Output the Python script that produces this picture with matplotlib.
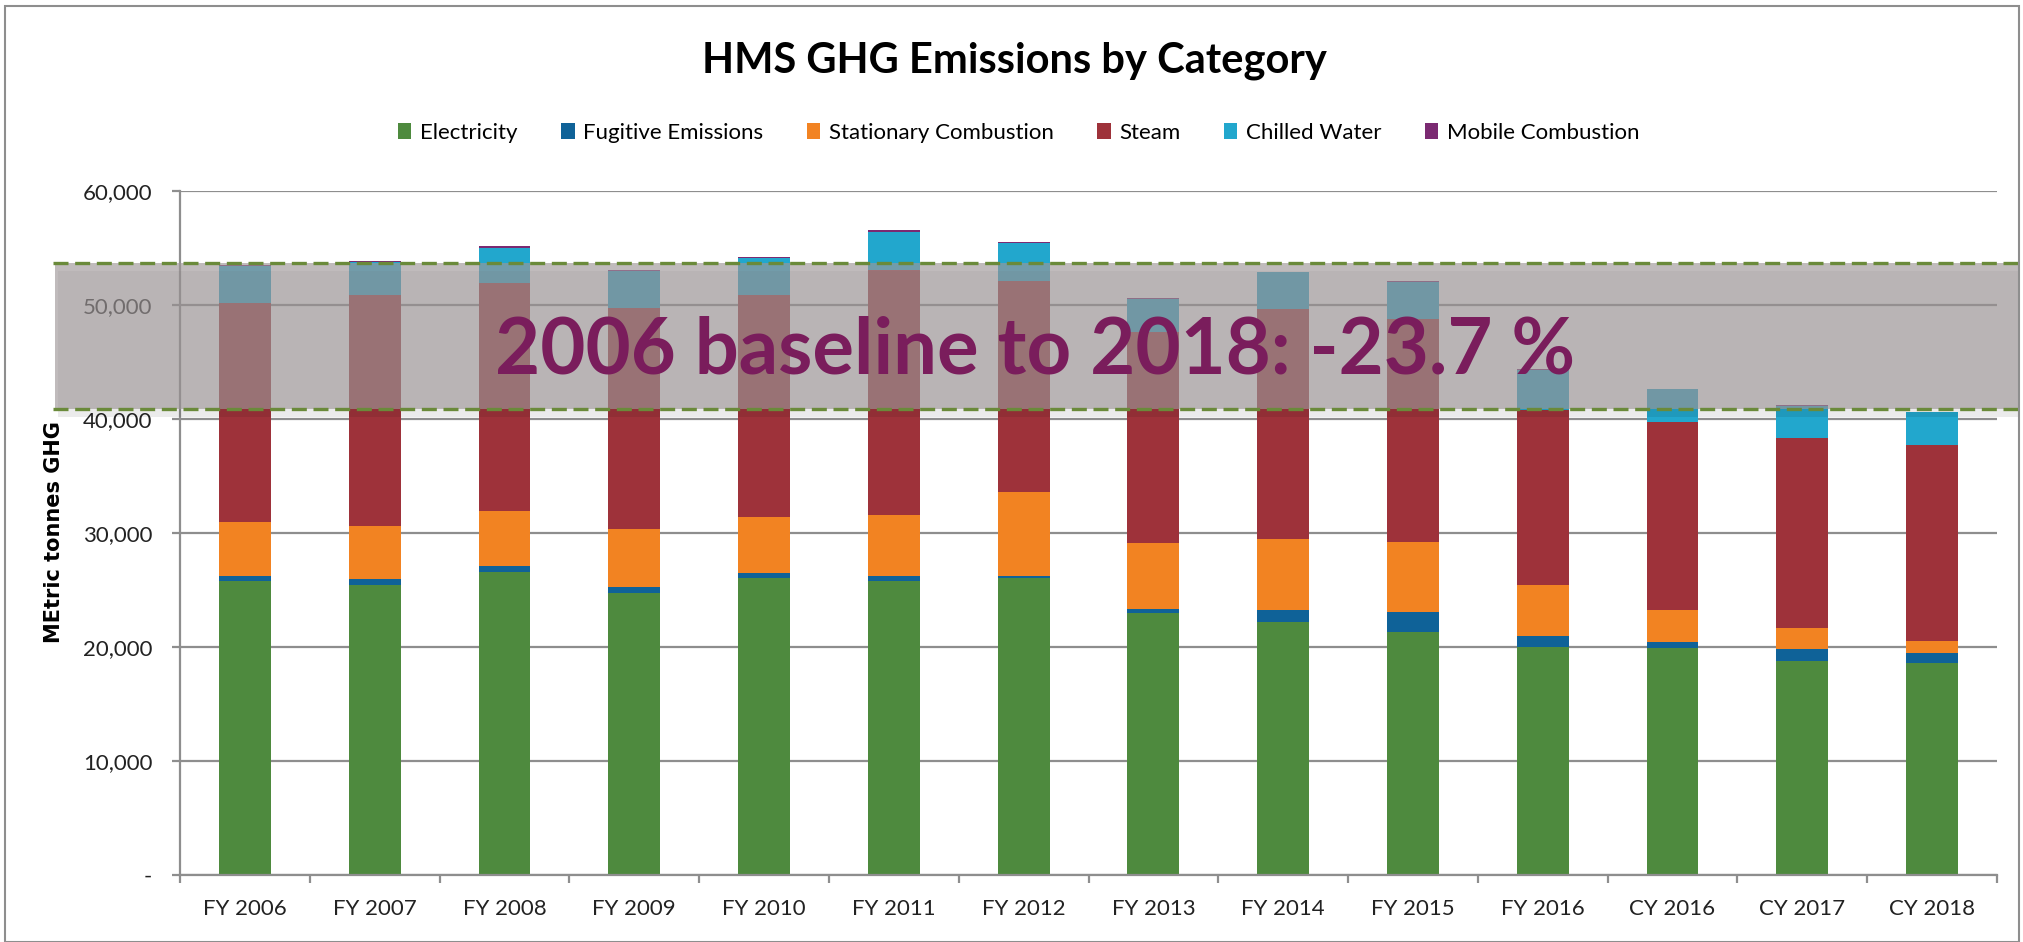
import matplotlib.pyplot as plt
import matplotlib.transforms as mtransforms
from matplotlib.patches import Rectangle, Patch
from matplotlib.ticker import FuncFormatter, FixedLocator
import numpy as np

plt.rcParams['font.family'] = ['Lato', 'DejaVu Sans']

# Data (metric tonnes GHG)
categories = ["FY 2006", "FY 2007", "FY 2008", "FY 2009", "FY 2010", "FY 2011", "FY 2012",
              "FY 2013", "FY 2014", "FY 2015", "FY 2016", "CY 2016", "CY 2017", "CY 2018"]
electricity = [25790, 25440, 26610, 24740, 26025, 25790, 26025, 22955, 22165, 21345, 20030, 19940, 18745, 18625]
fugitive = [470, 500, 490, 495, 495, 470, 235, 375, 1055, 1755, 965, 470, 1055, 825]
stationary = [4705, 4670, 4800, 5115, 4910, 5290, 7310, 5765, 6225, 6080, 4445, 2835, 1895, 1075]
steam = [19185, 20240, 20000, 19410, 19420, 21520, 18535, 18510, 20205, 19590, 15360, 16465, 16665, 17220]
chilled = [3270, 2910, 3100, 3220, 3250, 3360, 3305, 2920, 3215, 3250, 3500, 2890, 2780, 2840]
mobile = [50, 100, 175, 50, 140, 150, 145, 60, 60, 60, 50, 50, 80, 30]

series_names = ["Electricity", "Fugitive Emissions", "Stationary Combustion",
                "Steam", "Chilled Water", "Mobile Combustion"]
colors = ["#4e8a3e", "#0f6298", "#f28322", "#9e323a", "#22a7cd", "#7b2a72"]

# band marking baseline total and 2018 total
band_top = 53660
band_bottom = 40880
note = "2006 baseline to 2018: -23.7 %"

W, H = 2023, 942
fig = plt.figure(figsize=(W / 100, H / 100), dpi=100)
ax = fig.add_axes([180 / W, 67 / H, (1997 - 180) / W, (875 - 191) / H])

x = np.arange(len(categories))
bottom = np.zeros(len(categories))
for vals, name, c in zip([electricity, fugitive, stationary, steam, chilled, mobile], series_names, colors):
    ax.bar(x, vals, 0.4, bottom=bottom, color=c, label=name, zorder=2, linewidth=0)
    bottom += np.array(vals)

ax.set_xlim(-0.5, len(categories) - 0.5)
ax.set_ylim(0, 60000)
ax.set_yticks(np.arange(0, 60001, 10000))
ax.yaxis.set_major_formatter(FuncFormatter(lambda v, p: "-" if v == 0 else f"{int(v):,}"))
ax.grid(axis='y', color='#8e8e8e', linewidth=1.6)
ax.set_axisbelow(True)

ax.set_xticks(x)
ax.set_xticklabels(categories)
ax.xaxis.set_minor_locator(FixedLocator(np.arange(-0.5, len(categories), 1.0)))
ax.tick_params(axis='x', which='major', length=0, pad=17, labelsize=16, labelcolor='#222222')
ax.tick_params(axis='x', which='minor', length=6, width=1.6, color='#8e8e8e', direction='out')
ax.tick_params(axis='y', length=6, width=1.6, color='#8e8e8e', pad=14, labelsize=16, labelcolor='#222222')

for s in ['top', 'right']:
    ax.spines[s].set_visible(False)
for s in ['left', 'bottom']:
    ax.spines[s].set_color('#8e8e8e')
    ax.spines[s].set_linewidth(1.6)

fig.text(54 / W, 1 - 532 / H, "MEtric tonnes GHG", rotation=90, ha='center', va='center',
         fontsize=15, fontweight='bold', family='DejaVu Sans')

fig.text(1014 / W, 1 - 61 / H, "HMS GHG Emissions by Category", ha='center', va='center',
         fontsize=30, fontweight='bold')

handles = [Patch(facecolor=c, edgecolor='none') for c in colors]
fig.legend(handles, series_names, loc='center', bbox_to_anchor=(1019 / W, 1 - 133 / H),
           ncol=6, frameon=False, fontsize=16, handlelength=0.6, handleheight=0.7,
           handletextpad=0.4, columnspacing=1.95)

# translucent band with dashed borders
blend = mtransforms.blended_transform_factory(fig.transFigure, ax.transData)
shadow = Rectangle((58 / W, band_bottom - 700), (2020 - 58) / W, band_top - band_bottom,
                   transform=blend, facecolor='#000000', alpha=0.08, edgecolor='none',
                   clip_on=False, zorder=4)
ax.add_patch(shadow)
band = Rectangle((55 / W, band_bottom), (2020 - 55) / W, band_top - band_bottom,
                 transform=blend, facecolor='#9e9798', alpha=0.65, edgecolor='none',
                 clip_on=False, zorder=5)
ax.add_patch(band)
for yv in [band_top, band_bottom]:
    ax.plot([53 / W, 1.0], [yv, yv], transform=blend, color='#6a8a3a', linewidth=2.4,
            linestyle=(0, (4.5, 2)), clip_on=False, zorder=6)

fig.text(1035 / W, 1 - 373 / H, note, ha='center', va='baseline',
         fontsize=56, fontweight='bold', color='#7a1d5c', zorder=7)

# outer chart border
fig.add_artist(Rectangle((5 / W, 0), (2019 - 5) / W, (H - 6) / H, transform=fig.transFigure,
                         fill=False, edgecolor='#8e8e8e', linewidth=1.5))

plt.savefig('out.png', dpi=100)
